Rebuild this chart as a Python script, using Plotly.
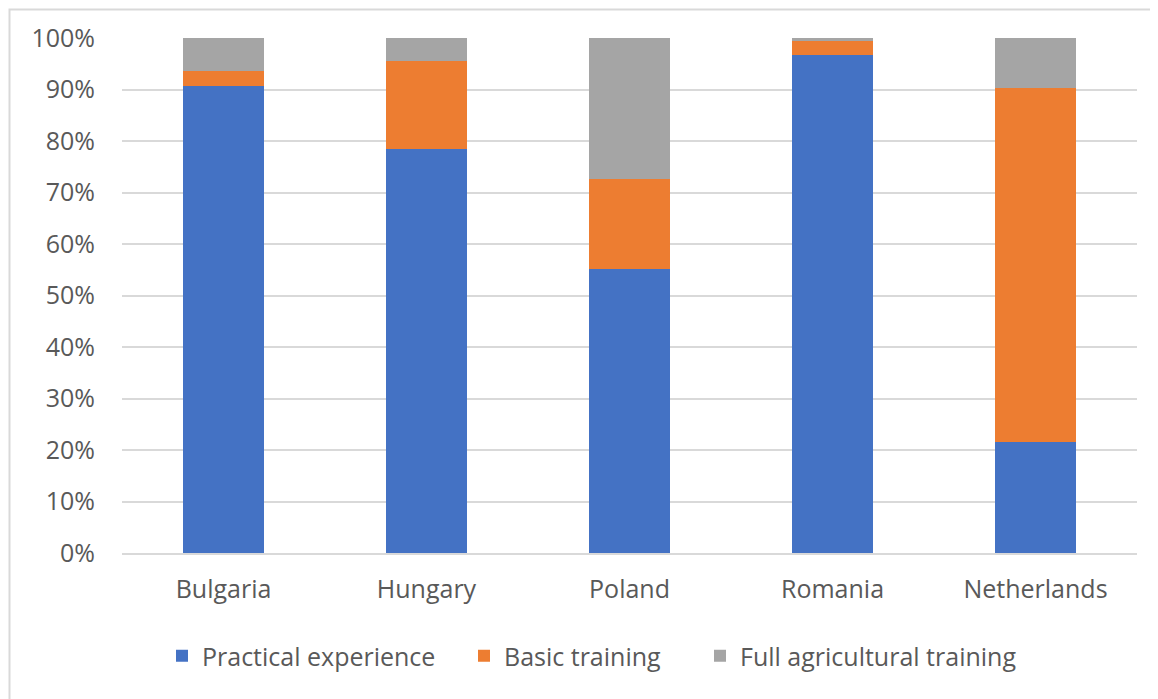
import plotly.graph_objects as go

countries = ["Bulgaria", "Hungary", "Poland", "Romania", "Netherlands"]
practical = [90.7, 78.5, 55.1, 96.7, 21.6]
basic = [2.8, 17.0, 17.5, 2.8, 68.7]
full = [6.5, 4.5, 27.4, 0.5, 9.7]
series_names = ["Practical experience", "Basic training", "Full agricultural training"]
colors = ["#4472C4", "#ED7D31", "#A5A5A5"]
y_ticks = [0, 10, 20, 30, 40, 50, 60, 70, 80, 90, 100]
y_ticktext = [f"{v}%" for v in y_ticks]

# page body has an 8px margin; work in reference pixel coords and offset
OFF = 8
W, H = 1158 - OFF, 699 - OFF
ML, MR, MT, MB = 122 - OFF, 21, 38 - OFF, 146
PW, PH = W - ML - MR, H - MT - MB

def px_x(x):
    return (x - OFF - ML) / PW

def px_y(y):
    return (H - MB - (y - OFF)) / PH

fig = go.Figure()
legends = ["legend", "legend2", "legend3"]
for name, vals, col, lg in zip(series_names, [practical, basic, full], colors, legends):
    fig.add_trace(go.Bar(x=countries, y=vals, name=name, marker_color=col,
                         marker_line_width=0, legend=lg, showlegend=True))

font = dict(family="Open Sans", size=25, color="#595959")
leg_common = dict(orientation="h", xref="paper", yref="paper", yanchor="middle",
                  xanchor="left", font=font, bgcolor="rgba(0,0,0,0)", borderwidth=0,
                  visible=True)

fig.update_layout(
    width=W, height=H,
    margin=dict(l=ML, r=MR, t=MT, b=MB, autoexpand=False),
    paper_bgcolor="white", plot_bgcolor="white",
    barmode="stack", bargap=0.6,
    showlegend=True,
    font=font,
    legend=dict(x=px_x(162), y=px_y(656), **leg_common),
    legend2=dict(x=px_x(464), y=px_y(656), **leg_common),
    legend3=dict(x=px_x(700), y=px_y(656), **leg_common),
    xaxis=dict(showgrid=False, showline=True, linecolor="#d9d9d9", linewidth=1.5,
               tickfont=font, ticklabelstandoff=13, fixedrange=True),
    yaxis=dict(range=[0, 100], tickmode="array", tickvals=y_ticks, ticktext=y_ticktext,
               showgrid=True, gridcolor="#d9d9d9", gridwidth=1.5, zeroline=False,
               showline=False, tickfont=font, ticklabelstandoff=26, fixedrange=True),
    shapes=[dict(type="rect", xref="paper", yref="paper",
                 x0=px_x(9.5), x1=px_x(1250), y0=px_y(780), y1=px_y(9.5),
                 line=dict(color="#d9d9d9", width=2), layer="below")],
)

fig.write_html("out.html")
